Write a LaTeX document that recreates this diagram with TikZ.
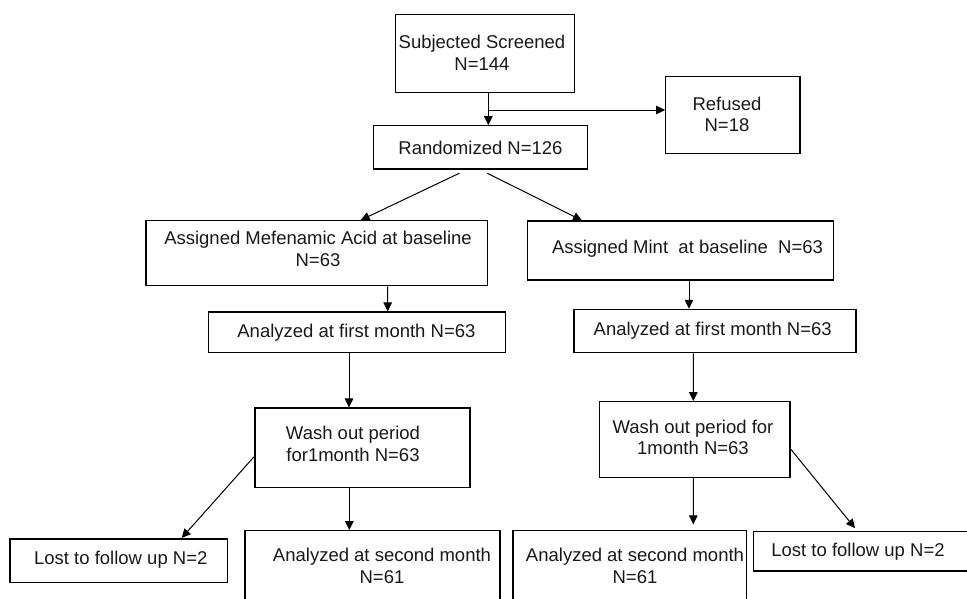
\documentclass[tikz,border=0pt]{standalone}
\usepackage{fontspec}
\setmainfont{Liberation Sans}
\usetikzlibrary{arrows.meta}
\tikzset{
  box/.style={draw=black, line width=1.1pt, rectangle, inner sep=0pt},
  txt/.style={align=center, inner sep=0pt, font=\fontsize{18.5}{21.7}\selectfont, text=black!90},
  arr/.style={draw=black, line width=1pt, -{Triangle[length=9pt,width=8.5pt]}}
}
\begin{document}
\begin{tikzpicture}[x=1pt,y=-1pt]
\useasboundingbox (0,0) rectangle (967,598);
\clip (0,0) rectangle (967,598);
\fill[white] (0,0) rectangle (967,598);
% boxes
\node[box, minimum width=178.6pt, minimum height=78pt] (subj) at (485,53.3) {};
\node[box, minimum width=134.3pt, minimum height=77.2pt] (ref) at (732.85,114.9) {};
\node[box, minimum width=214.4pt, minimum height=43.3pt] (rand) at (480.5,147.35) {};
\node[box, minimum width=341.7pt, minimum height=65pt] (mef) at (316.85,253.2) {};
\node[box, minimum width=305.6pt, minimum height=59pt] (mint) at (680.5,250.5) {};
\node[box, minimum width=297.4pt, minimum height=40.7pt] (anl) at (357,332.35) {};
\node[box, minimum width=282pt, minimum height=43.4pt] (anr) at (715,331) {};
\node[box, minimum width=215pt, minimum height=79.7pt] (wl) at (362.5,447.85) {};
\node[box, minimum width=190.7pt, minimum height=75.6pt] (wr) at (694.65,439.5) {};
\node[box, minimum width=217.7pt, minimum height=43.7pt] (lostl) at (118.85,560.85) {};
\node[box, minimum width=255pt, minimum height=90pt] (a2l) at (372.5,575.7) {};
\node[box, minimum width=233.7pt, minimum height=90pt] (a2r) at (629.85,575.7) {};
\node[box, minimum width=221.7pt, minimum height=39.3pt] (lostr) at (864.15,551.35) {};
% texts
\node[txt] (subjt) at (482,52.5) {Subjected Screened\\N=144};
\node[txt] (reft) at (727,114.5) {Refused\\N=18};
\node[txt] (randt) at (480.5,147.5) {Randomized N=126};
\node[txt] (meft) at (318,249) {Assigned Mefenamic Acid at baseline\\N=63};
\node[txt] (mintt) at (687.5,249) {Assigned Mint\ \ at baseline\ \ N=63};
\node[txt] (anlt) at (356.4,332.5) {Analyzed at first month N=63};
\node[txt] (anrt) at (712.7,331) {Analyzed at first month N=63};
\node[txt] (wlt) at (353,444) {Wash out period\\for1month N=63};
\node[txt] (wrt) at (693,437.5) {Wash out period for\\1month N=63};
\node[txt] (lostlt) at (120.8,560) {Lost to follow up N=2};
\node[txt] (a2lt) at (382,566) {Analyzed at second month\\N=61};
\node[txt] (a2rt) at (635,566) {Analyzed at second month\\N=61};
\node[txt] (lostrt) at (858,552) {Lost to follow up N=2};
% connectors
\coordinate (br) at (488.3,110);
\draw[arr] (subj.south -| br) -- (rand.north -| br);
\draw[arr] (br) -- (ref.west |- br);
\draw[arr] ([shift={(-21.2,3.7)}]rand.south) -- ([xshift=43.8pt]mef.north);
\draw[arr] ([shift={(6.8,3.7)}]rand.south) -- ([xshift=-98.5pt]mint.north);
\draw[arr] ([xshift=70.85pt]mef.south) -- ([xshift=30.7pt]anl.north);
\draw[arr] ([xshift=8.5pt]mint.south) -- ([xshift=-26pt]anr.north);
\draw[arr] ([xshift=-8pt]anl.south) -- ([xshift=-13.5pt]wl.north);
\draw[arr] ([xshift=-21.7pt]anr.south) -- ([xshift=-1.35pt]wr.north);
\draw[arr] ([shift={(-0.5,9)}]wl.west) -- ([shift={(62.85,-0.5)}]lostl.north);
\draw[arr] ([xshift=-13.2pt]wl.south) -- ([xshift=-23.2pt]a2l.north);
\draw[arr] ([xshift=-1.35pt]wr.south) -- ([shift={(63.45,-5.7)}]a2r.north);
\draw[arr] ([shift={(0.5,10)}]wr.east) -- ([shift={(-9.15,-3)}]lostr.north);
\end{tikzpicture}
\end{document}
